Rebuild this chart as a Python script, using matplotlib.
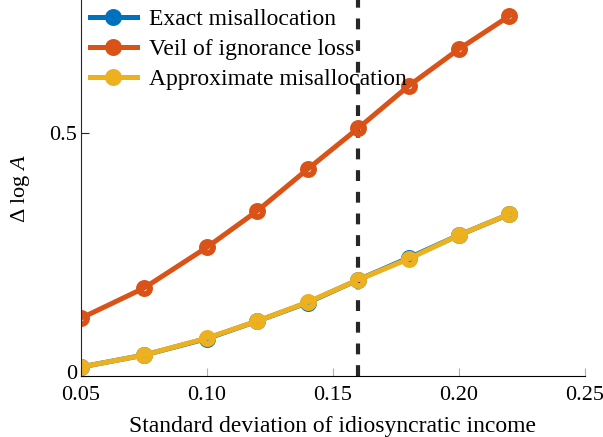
import numpy as np
import matplotlib.pyplot as plt
import matplotlib.transforms as mtransforms

plt.rcParams['font.family'] = ['Liberation Serif', 'DejaVu Serif']
plt.rcParams['mathtext.fontset'] = 'custom'
plt.rcParams['mathtext.rm'] = 'Liberation Serif'
plt.rcParams['mathtext.it'] = 'Liberation Serif:italic'

# Standard deviation of idiosyncratic income
sigma = [0.05, 0.075, 0.10, 0.12, 0.14, 0.16, 0.18, 0.20, 0.22]

# Delta log A for each measure
exact_mis = [0.0185, 0.043, 0.077, 0.113, 0.151, 0.198, 0.243, 0.290, 0.333]
veil_loss = [0.119, 0.181, 0.265, 0.340, 0.426, 0.510, 0.597, 0.673, 0.741]
approx_mis = [0.0185, 0.043, 0.078, 0.113, 0.152, 0.198, 0.241, 0.290, 0.333]

calibrated_sigma = 0.16

blue = '#0072BD'
orange = '#D95319'
yellow = '#EDB120'

fig = plt.figure(figsize=(6.03, 4.37), dpi=100)
ax = fig.add_axes([0.1343, 0.1396, 0.8357, 0.8604])

style = dict(lw=3.6, marker='o', ms=8, mew=4.2, mfc='none')
ax.plot(sigma, exact_mis, color=blue, label='Exact misallocation', **style)
ax.plot(sigma, veil_loss, color=orange, label='Veil of ignorance loss', **style)
ax.plot(sigma, approx_mis, color=yellow, label='Approximate misallocation', **style)

ax.axvline(calibrated_sigma, color='#262626', lw=3, ls=(0, (2.6, 2.6)), zorder=1)

ax.set_xlim(0.05, 0.25)
ax.set_ylim(0, 0.774)
ax.set_xticks([0.05, 0.10, 0.15, 0.20, 0.25])
ax.set_xticklabels(['0.05', '0.10', '0.15', '0.20', '0.25'])
ax.set_yticks([0, 0.5])
ax.set_yticklabels(['0', '0.5'])
ax.tick_params(direction='in', length=6, width=0.8, color='#b0b0b0',
               labelsize=16, pad=7)
ax.tick_params(axis='y', color='#262626', pad=3)

# nudge the "0" label up a little so it clears the first x label
zero_lbl = ax.get_yticklabels()[0]
zero_lbl.set_transform(zero_lbl.get_transform() +
                       mtransforms.ScaledTranslation(0, 3 / 72, fig.dpi_scale_trans))

ax.spines['top'].set_visible(False)
ax.spines['right'].set_visible(False)
ax.spines['left'].set_color('#262626')
ax.spines['bottom'].set_color('#000000')

ax.set_xlabel('Standard deviation of idiosyncratic income', fontsize=17, labelpad=8)
ax.set_ylabel(r'$\Delta\ \mathrm{log}\ A$', fontsize=16, labelpad=12)

ax.legend(loc='upper left', frameon=False, fontsize=17, handlelength=2.0,
          handletextpad=0.5, labelspacing=0.36, borderaxespad=0.0,
          borderpad=0.15, bbox_to_anchor=(0.01, 0.987))

fig.savefig('out.png', dpi=100)
